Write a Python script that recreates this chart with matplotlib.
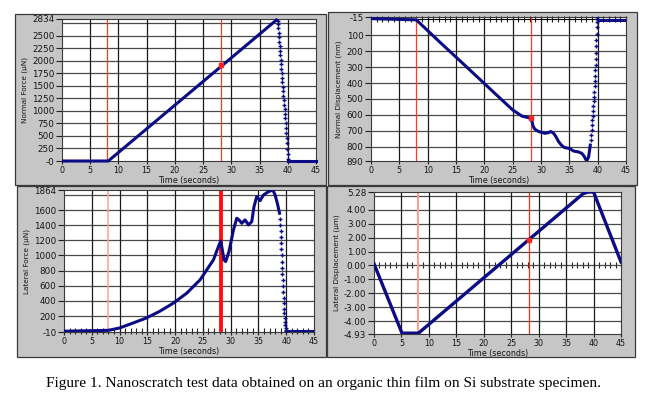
import matplotlib
matplotlib.use("Agg")
import matplotlib.pyplot as plt
from matplotlib.patches import Rectangle
from matplotlib.ticker import MultipleLocator, NullFormatter

# ---------------- data ----------------
time_ticks = [0, 5, 10, 15, 20, 25, 30, 35, 40, 45]
marker_lines_t = [8.0, 28.2]

# Normal force (uN)
nf_line_t = [0, 8.2, 38.2]
nf_line_v = [0, 0, 2834]
nf_drop_t = [38.22, 38.28, 38.34, 38.40, 38.46, 38.52, 38.58, 38.64, 38.70, 38.76,
             38.82, 38.88, 38.94, 39.00, 39.06, 39.12, 39.18, 39.24, 39.30, 39.36,
             39.42, 39.48, 39.54, 39.60, 39.66, 39.72, 39.78, 39.84, 39.90, 39.96, 40.02]
nf_drop_v = [2800, 2730, 2650, 2560, 2470, 2380, 2290, 2200, 2110, 2020,
             1930, 1840, 1750, 1660, 1570, 1480, 1390, 1300, 1210, 1120,
             1030, 940, 850, 760, 660, 560, 460, 350, 240, 130, 30]
nf_end_t = [40.05, 45]
nf_end_v = [0, 0]
nf_mark = (28.2, 1907)
nf_labels = [0, 250, 500, 750, 1000, 1250, 1500, 1750, 2000, 2250, 2500, 2834]
nf_label_txt = ["-0", "250", "500", "750", "1000", "1250", "1500", "1750", "2000", "2250", "2500", "2834"]
nf_grid = [250, 500, 750, 1000, 1250, 1500, 1750, 2000, 2250, 2500, 2750]

# Normal displacement (nm)
nd_line_t = [0, 3, 8, 12, 16, 20, 23, 25, 26.6, 28.2, 28.4, 28.6, 28.9, 29.6, 30.7,
             31.3, 31.7, 32.2, 32.6, 33.1, 33.6, 34.1, 35.1, 35.7, 36.6, 37.2, 37.6,
             37.9, 38.1, 38.4, 38.7]
nd_line_v = [-5, -2, 3, 138, 270, 403, 503, 569, 607, 622, 640, 670, 690, 705, 716,
             712, 705, 715, 735, 768, 790, 805, 812, 827, 833, 842, 860,
             880, 888, 865, 790]
nd_rise_t = [38.80, 38.88, 38.95, 39.02, 39.08, 39.14, 39.20, 39.26, 39.31, 39.36,
             39.41, 39.46, 39.50, 39.54, 39.58, 39.62, 39.66, 39.70, 39.74, 39.78,
             39.82, 39.86, 39.90, 39.94, 39.97]
nd_rise_v = [760, 725, 695, 665, 635, 605, 575, 545, 515, 485,
             455, 420, 390, 355, 320, 285, 250, 210, 170, 130,
             90, 50, 15, -5, -15]
nd_end_t = [40.0, 45]
nd_end_v = [3, 3]
nd_mark = (28.2, 622)
nd_labels = [-15, 100, 200, 300, 400, 500, 600, 700, 800, 890]
nd_label_txt = ["-15", "100", "200", "300", "400", "500", "600", "700", "800", "890"]
nd_grid = [100, 200, 300, 400, 500, 600, 700, 800]

# Lateral force (uN)
lf_line_t = [0, 8, 10, 12.4, 14.8, 17.2, 19.7, 22.1, 24.5, 25.7, 26.9, 27.8, 28.2,
             28.5, 28.8, 29.1, 29.7, 30.5, 31.1, 31.5, 32.0, 32.6, 33.2, 33.8, 34.2,
             34.7, 35.3, 35.9, 36.8, 37.6, 38.0, 38.4, 38.8]
lf_line_v = [0, 12, 43, 108, 174, 262, 372, 503, 679, 811, 942, 1118, 1190,
             1074, 942, 920, 1052, 1337, 1491, 1469, 1425, 1469, 1403, 1447, 1645,
             1777, 1724, 1798, 1842, 1864, 1798, 1689, 1557]
lf_drop_t = [38.86, 38.92, 38.97, 39.02, 39.07, 39.12, 39.17, 39.22, 39.27, 39.32,
             39.37, 39.42, 39.47, 39.52, 39.57, 39.62, 39.67, 39.72, 39.77, 39.82,
             39.87, 39.92, 39.97]
lf_drop_v = [1480, 1400, 1320, 1240, 1160, 1080, 1000, 920, 840, 760,
             680, 600, 520, 440, 370, 300, 240, 180, 125, 80,
             45, 20, 5]
lf_end_t = [40.0, 45]
lf_end_v = [0, 0]
lf_labels = [-10, 200, 400, 600, 800, 1000, 1200, 1400, 1600, 1864]
lf_label_txt = ["-10", "200", "400", "600", "800", "1000", "1200", "1400", "1600", "1864"]
lf_grid = [200, 400, 600, 800, 1000, 1200, 1400, 1600, 1800]

# Lateral displacement (um)
ld_t = [0, 5.1, 8.1, 38.1, 39.0, 40.0, 45]
ld_v = [0.12, -4.87, -4.87, 5.16, 5.28, 5.28, 0.25]
ld_mark = (28.2, 1.84)
ld_labels = [-4.93, -4, -3, -2, -1, 0, 1, 2, 3, 4, 5.28]
ld_label_txt = ["-4.93", "-4.00", "-3.00", "-2.00", "-1.00", "0.00", "1.00", "2.00", "3.00", "4.00", "5.28"]
ld_grid = [-4, -3, -2, -1, 0, 1, 2, 3, 4, 5]

caption = "Figure 1. Nanoscratch test data obtained on an organic thin film on Si substrate specimen."

# ---------------- figure ----------------
W, H = 651, 416
fig = plt.figure(figsize=(W / 100, H / 100), dpi=100)
fig.patch.set_facecolor("white")

NAVY = "#0b0b86"
PANEL = "#c6c6c6"
YFONT = ["Liberation Sans Narrow", "DejaVu Sans"]


def px_rect(x0, y0, x1, y1):
    return [x0 / W, 1 - y1 / H, (x1 - x0) / W, (y1 - y0) / H]


def panel(x0, y0, x1, y1):
    r = Rectangle((x0 / W, 1 - y1 / H), (x1 - x0) / W, (y1 - y0) / H,
                  transform=fig.transFigure, facecolor=PANEL, edgecolor="#3a3a3a",
                  linewidth=0.9, zorder=-10)
    fig.patches.append(r)


panel(15, 14, 326, 185)
panel(328, 12, 637, 185)
panel(17, 186, 326, 357)
panel(327, 186, 635, 357)


def make_axes(rect, ylim, labels, label_txt, grid, ylabel, zero_ticks):
    ax = fig.add_axes(px_rect(*rect))
    ax.set_zorder(1)
    ax.set_facecolor("white")
    ax.set_xlim(0, 45)
    ax.set_ylim(*ylim)
    ax.set_xticks(time_ticks)
    ax.set_xticklabels([str(t) for t in time_ticks])
    ax.set_yticks(labels)
    ax.set_yticklabels(label_txt)
    ax.set_yticks(grid, minor=True)
    ax.tick_params(axis="y", which="major", length=4, width=0.8, color="#202020",
                   labelsize=6.3, pad=1.5, labelcolor="#151515")
    ax.tick_params(axis="y", which="minor", length=0)
    ax.tick_params(axis="x", which="major", length=2, width=0.8, color="#202020",
                   labelsize=5.8, pad=1.5, labelcolor="#151515")
    for v in grid:
        ax.axhline(v, color="#4a4a4a", lw=0.9, zorder=1)
    for t in time_ticks[1:-1]:
        ax.axvline(t, color="#1a1a1a", lw=0.9, zorder=1)
    for s in ax.spines.values():
        s.set_color("#3a3a3a")
        s.set_linewidth(0.8)
    ax.set_xlabel("Time (seconds)", fontsize=5.8, labelpad=1, color="#151515")
    ax.set_ylabel(ylabel, fontsize=5.2, family=YFONT, labelpad=3, color="#151515")
    if zero_ticks:
        lo, hi = ax.get_ylim()
        frac = (0 - lo) / (hi - lo)
        sec = ax.secondary_xaxis(frac)
        sec.set_xticks(time_ticks)
        sec.xaxis.set_minor_locator(MultipleLocator(1))
        sec.xaxis.set_major_formatter(NullFormatter())
        sec.tick_params(which="both", direction="inout", length=4, width=0.8,
                        color="#202020", labelbottom=False)
        sec.spines["bottom"].set_visible(False)
    return ax


MK = dict(ls="none", marker="+", ms=3.2, mew=1.0, color=NAVY, zorder=3)

# Top-left: normal force
ax1 = make_axes((62, 19, 316, 161), (0, 2834), nf_labels, nf_label_txt, nf_grid,
                "Normal Force (\u00b5N)", False)
ax1.axvline(marker_lines_t[0], color="#ff3a1a", lw=0.9, zorder=2)
ax1.axvline(marker_lines_t[1], color="#ff3a1a", lw=0.9, zorder=2)
ax1.plot(nf_line_t, nf_line_v, color=NAVY, lw=2.2, zorder=3, solid_capstyle="butt", clip_on=False)
ax1.plot(nf_drop_t, nf_drop_v, **MK)
ax1.plot(nf_end_t, nf_end_v, color=NAVY, lw=2.2, zorder=3, clip_on=False)
ax1.plot([nf_mark[0]], [nf_mark[1]], marker="s", ms=2.5, color="#ff2020", zorder=4)

# Top-right: normal displacement
ax2 = make_axes((371, 17, 626, 161), (890, -15), nd_labels, nd_label_txt, nd_grid,
                "Normal Displacement (nm)", True)
ax2.axvline(marker_lines_t[0], color="#ff3a1a", lw=0.9, zorder=2)
ax2.axvline(marker_lines_t[1], color="#ff3a1a", lw=0.9, zorder=2)
ax2.plot(nd_line_t, nd_line_v, color=NAVY, lw=2.2, zorder=3)
ax2.plot(nd_rise_t, nd_rise_v, **MK)
ax2.plot(nd_end_t, nd_end_v, color=NAVY, lw=2.2, zorder=3)
ax2.plot([nd_mark[0]], [nd_mark[1]], marker="s", ms=2.5, color="#ff2020", zorder=4)

# Bottom-left: lateral force
ax3 = make_axes((64, 190, 314, 332), (-10, 1864), lf_labels, lf_label_txt, lf_grid,
                "Lateral Force (\u00b5N)", True)
ax3.axvline(marker_lines_t[0], color="#ffa08c", lw=1.1, zorder=2)
ax3.axvline(marker_lines_t[1], color="#ff1010", lw=2.8, zorder=2)
ax3.plot(lf_line_t, lf_line_v, color=NAVY, lw=2.2, zorder=3)
ax3.plot(lf_drop_t, lf_drop_v, **MK)
ax3.plot(lf_end_t, lf_end_v, color=NAVY, lw=2.2, zorder=3)

# Bottom-right: lateral displacement
ax4 = make_axes((374, 192, 621, 334), (-4.93, 5.28), ld_labels, ld_label_txt, ld_grid,
                "Lateral Displacement (\u00b5m)", True)
ax4.axvline(marker_lines_t[0], color="#ff9a90", lw=1.4, zorder=2)
ax4.axvline(marker_lines_t[1], color="#ff2a1a", lw=0.9, zorder=2)
ax4.plot(ld_t, ld_v, color=NAVY, lw=2.4, zorder=3)
ax4.plot([ld_mark[0]], [ld_mark[1]], marker="s", ms=2.5, color="#ff2020", zorder=4)

fig.text(324 / W, 1 - 383 / H, caption, ha="center", va="center",
         fontsize=11.1, family=["Liberation Serif", "DejaVu Serif"], color="black")

fig.savefig("out.png", dpi=100, facecolor="white")
